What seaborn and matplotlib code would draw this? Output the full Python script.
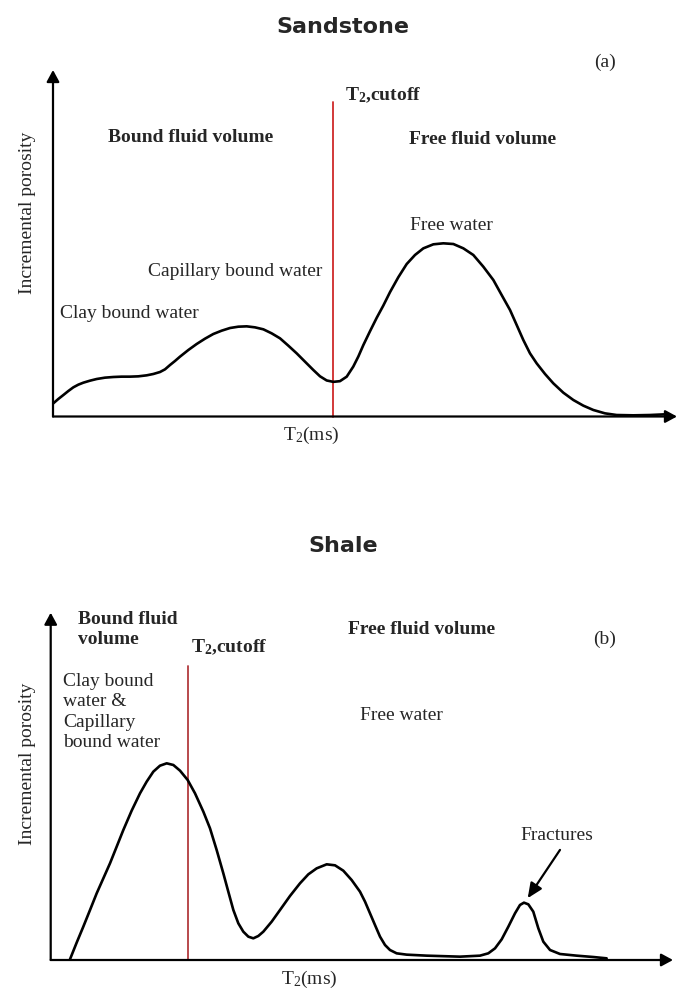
import matplotlib
matplotlib.use("Agg")
import matplotlib.pyplot as plt
import seaborn as sns
import pandas as pd

# ---------------- data ----------------
# Sandstone: T2 position (0-100 along axis) and incremental porosity (0-100)
sand_t2 = [0.05, 0.85, 1.66, 2.46, 3.26, 4.06, 4.86, 5.93, 7.00, 8.33, 9.67, 11.00,
           12.34, 13.67, 15.01, 16.08, 17.15, 17.95, 18.75, 19.55, 20.35, 21.69,
           23.02, 24.36, 25.69, 27.03, 28.37, 29.70, 31.04, 32.37, 33.71, 35.04,
           36.38, 37.71, 39.05, 40.38, 41.72, 42.79, 43.86, 44.92, 45.99, 47.07,
           48.12, 48.93, 49.73, 50.80, 51.88, 52.93, 54.01, 55.34, 56.68,
           58.01, 59.35, 60.95, 62.55, 64.16, 65.76, 67.36, 68.96, 70.57, 71.90,
           73.24, 74.31, 75.37, 76.44, 77.51, 78.85, 80.18, 81.78, 83.39, 84.99,
           86.59, 88.46, 90.33, 93.00, 95.67, 98.08]
sand_por = [3.80, 5.05, 6.20, 7.36, 8.42, 9.19, 9.76, 10.34, 10.82, 11.21, 11.40, 11.50,
            11.50, 11.59, 11.88, 12.27, 12.84, 13.61, 14.86, 16.02, 17.27, 19.19,
            20.92, 22.46, 23.81, 24.77, 25.54, 25.92, 26.02, 25.73, 25.16, 24.00,
            22.56, 20.45, 18.23, 15.83, 13.42, 11.60, 10.40, 10.00, 10.20, 11.50,
            14.40, 17.30, 20.60, 24.60, 28.50, 32.00, 35.90, 40.20, 44.00,
            46.61, 48.53, 49.69, 49.98, 49.78, 48.53, 46.61, 43.24, 39.39, 35.06,
            30.74, 26.40, 22.08, 18.23, 15.34, 12.27, 9.57, 6.88, 4.76, 3.13,
            1.88, 0.91, 0.43, 0.34, 0.43, 0.63]
sand_cutoff = 44.92
sand_cutoff_top = 90.85

# Shale
shale_t2 = [3.10, 4.17, 5.24, 6.32, 7.39, 8.46, 9.53, 10.60, 11.67, 13.01, 14.35,
            15.42, 16.49, 17.56, 18.64, 19.71, 20.78, 22.01, 23.19, 24.53, 25.60,
            26.67, 27.74, 28.54, 29.35, 30.15, 30.95, 31.76, 32.56, 33.36, 34.17,
            35.51, 36.85, 38.45, 40.06, 41.40, 42.74, 44.35, 45.69, 47.02, 48.36,
            49.70, 50.51, 51.31, 52.11, 52.92, 53.72, 54.52, 55.59, 57.20, 60.42,
            65.77, 68.98, 70.32, 71.40, 72.47, 73.54, 74.61, 75.41, 76.05, 76.75,
            77.55, 78.36, 79.16, 80.24, 81.84, 84.52, 87.20, 89.34]
shale_por = [0.20, 4.99, 9.60, 14.40, 19.20, 23.52, 27.84, 32.63, 37.43, 43.00, 47.99,
             51.35, 54.23, 55.95, 56.63, 56.15, 54.52, 51.83, 47.99, 42.71, 37.91,
             31.67, 24.96, 19.68, 14.40, 10.56, 8.16, 6.72, 6.24, 6.91, 8.16,
             11.04, 14.40, 18.43, 22.08, 24.67, 26.39, 27.55, 27.26, 25.72, 23.03,
             19.68, 16.80, 13.44, 10.08, 6.72, 4.32, 2.88, 1.92, 1.54, 1.25,
             0.96, 1.25, 1.92, 3.36, 5.95, 9.60, 13.44, 15.84, 16.51, 16.03,
             13.92, 9.12, 5.28, 2.88, 1.73, 1.25, 0.86, 0.48]
shale_cutoff = 22.02
shale_cutoff_top = 84.65
fracture_arrow_from = (81.84, 31.7)
fracture_arrow_to = (76.65, 17.8)

# ---------------- style ----------------
sns.set_theme(style="white")
plt.rcParams["font.family"] = ["Liberation Serif", "DejaVu Serif"]
plt.rcParams["mathtext.fontset"] = "custom"
plt.rcParams["mathtext.rm"] = "Liberation Serif"
plt.rcParams["mathtext.it"] = "Liberation Serif:italic"
plt.rcParams["mathtext.bf"] = "Liberation Serif:bold"

W, H = 686, 989
fig = plt.figure(figsize=(W / 100, H / 100), dpi=100)
fig.patch.set_facecolor("white")


def fx(px):
    return px / W


def fy(py):
    return 1 - py / H


def make_axes(left, right, bottom, top):
    ax = fig.add_axes([fx(left), fy(bottom), (right - left) / W, (bottom - top) / H])
    ax.set_xlim(0, 100)
    ax.set_ylim(0, 100)
    ax.set_axis_off()
    arrow = dict(arrowstyle="-|>,head_length=0.7,head_width=0.38", color="black",
                 lw=1.6, shrinkA=0, shrinkB=0, mutation_scale=10)
    ax.annotate("", xy=(0, 1), xytext=(0, 0), xycoords="axes fraction",
                textcoords="axes fraction", arrowprops=arrow, annotation_clip=False)
    ax.annotate("", xy=(1, 0), xytext=(0, 0), xycoords="axes fraction",
                textcoords="axes fraction", arrowprops=arrow, annotation_clip=False)
    return ax


def draw_curve(ax, t2, por, cutoff, cutoff_top, red):
    ax.plot([cutoff, cutoff], [0, cutoff_top], color=red, lw=1.3, zorder=1)
    df = pd.DataFrame({"T2": t2, "porosity": por})
    sns.lineplot(data=df, x="T2", y="porosity", ax=ax, color="black", lw=1.9,
                 sort=False, estimator=None, zorder=3)
    for l in ax.lines:
        l.set_clip_on(False)
        l.set_solid_joinstyle("round")
        l.set_solid_capstyle("round")


FS = 14
BOLD = dict(fontsize=FS, fontweight="bold")

# ---------------- (a) Sandstone ----------------
ax1 = make_axes(53, 677, 416.5, 70)
draw_curve(ax1, sand_t2, sand_por, sand_cutoff, sand_cutoff_top, "#cf2a2a")

fig.text(fx(343), fy(27), "Sandstone", ha="center", va="center", fontsize=16,
         fontweight="bold", family="DejaVu Sans")
fig.text(fx(605), fy(62), "(a)", ha="center", va="center", fontsize=FS)
fig.text(fx(345), fy(95), r"T$_\mathbf{2}$,cutoff", ha="left", va="center", **BOLD)
fig.text(fx(108), fy(138), "Bound fluid volume", ha="left", va="center", **BOLD)
fig.text(fx(409), fy(139), "Free fluid volume", ha="left", va="center", **BOLD)
fig.text(fx(410), fy(226), "Free water", ha="left", va="center", fontsize=FS)
fig.text(fx(148), fy(272), "Capillary bound water", ha="left", va="center", fontsize=FS)
fig.text(fx(60), fy(314), "Clay bound water", ha="left", va="center", fontsize=FS)
fig.text(fx(311), fy(435), r"T$_2$(ms)", ha="center", va="center", fontsize=FS)
fig.text(fx(28), fy(213), "Incremental porosity", ha="center", va="center",
         rotation=90, fontsize=FS)

# ---------------- (b) Shale ----------------
ax2 = make_axes(50.7, 673, 960, 612.7)
draw_curve(ax2, shale_t2, shale_por, shale_cutoff, shale_cutoff_top, "#b23a3e")
ax2.annotate("", xy=fracture_arrow_to, xytext=fracture_arrow_from,
             arrowprops=dict(arrowstyle="-|>,head_length=0.9,head_width=0.4",
                             color="black", lw=1.6, shrinkA=0, shrinkB=0,
                             mutation_scale=10))

fig.text(fx(343), fy(546), "Shale", ha="center", va="center", fontsize=16,
         fontweight="bold", family="DejaVu Sans")
fig.text(fx(78), fy(629.5), "Bound fluid\nvolume", ha="left", va="center",
         linespacing=1.3, **BOLD)
fig.text(fx(191), fy(647), r"T$_\mathbf{2}$,cutoff", ha="left", va="center", **BOLD)
fig.text(fx(348), fy(629.5), "Free fluid volume", ha="left", va="center", **BOLD)
fig.text(fx(605), fy(639), "(b)", ha="center", va="center", fontsize=FS)
fig.text(fx(63), fy(712), "Clay bound\nwater &\nCapillary\nbound water", ha="left",
         va="center", linespacing=1.28, fontsize=FS)
fig.text(fx(360), fy(716), "Free water", ha="left", va="center", fontsize=FS)
fig.text(fx(557), fy(836), "Fractures", ha="center", va="center", fontsize=FS)
fig.text(fx(309), fy(979), r"T$_2$(ms)", ha="center", va="center", fontsize=FS)
fig.text(fx(28), fy(764), "Incremental porosity", ha="center", va="center",
         rotation=90, fontsize=FS)

fig.savefig("out.png", dpi=100)
